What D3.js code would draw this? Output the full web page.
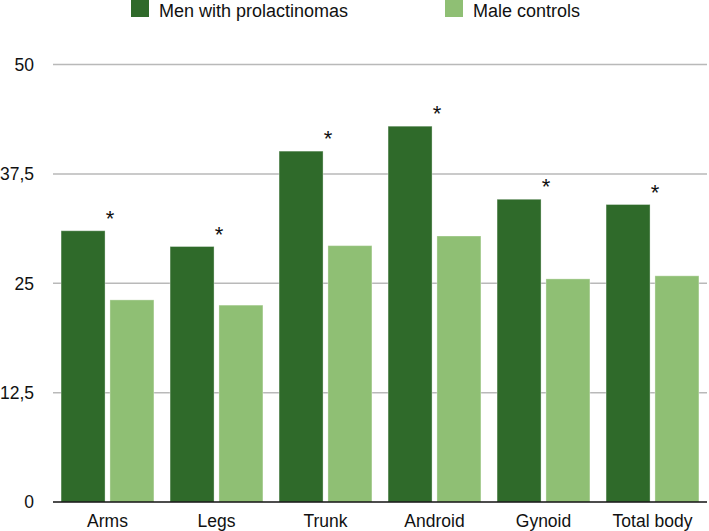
<!DOCTYPE html>
<html>
<head>
<meta charset="utf-8">
<script src="https://cdn.jsdelivr.net/npm/d3@7"></script>
<style>
  html, body { margin: 0; padding: 0; background: #fff; }
  svg { display: block; }
  text { font-family: "Liberation Sans", Arial, Helvetica, sans-serif; fill: #111; }
</style>
</head>
<body>
<svg id="chart" width="709" height="531"></svg>
<script>
const categories = ["Arms", "Legs", "Trunk", "Android", "Gynoid", "Total body"];
const seriesNames = ["Men with prolactinomas", "Male controls"];
const prolactinoma = [31.0, 29.2, 40.1, 42.95, 34.6, 34.0];
const controls = [23.1, 22.5, 29.3, 30.4, 25.5, 25.85];
const significant = [true, true, true, true, true, true];
const yTicks = [0, 12.5, 25, 37.5, 50];
const yTickLabels = ["0", "12,5", "25", "37,5", "50"];
const colors = ["#2f6a2a", "#8fbf74"];

const svg = d3.select("#chart");
const plotLeft = 53, plotRight = 707, plotTop = 64.5, plotBottom = 502;

const y = d3.scaleLinear().domain([0, 50]).range([plotBottom, plotTop]);
const x0 = d3.scaleBand().domain(categories).range([plotLeft, plotRight]).paddingInner(0.148).paddingOuter(0.074);
const x1 = d3.scaleBand().domain(seriesNames).range([0, x0.bandwidth()]).paddingInner(0.1).paddingOuter(0);

// gridlines
svg.append("g").selectAll("line").data(yTicks.filter(d => d > 0)).join("line")
  .attr("x1", plotLeft).attr("x2", plotRight)
  .attr("y1", d => y(d)).attr("y2", d => y(d))
  .attr("stroke", "#b9b9b9").attr("stroke-width", 1.5);

// y labels
svg.append("g").selectAll("text").data(yTicks).join("text")
  .attr("x", 34).attr("y", d => y(d)).attr("dy", "0.36em")
  .attr("text-anchor", "end").attr("font-size", 17.5)
  .text((d, i) => yTickLabels[i]);

// bars
const rows = categories.map((c, i) => ({ cat: c, vals: [prolactinoma[i], controls[i]], sig: significant[i] }));
const g = svg.append("g").selectAll("g").data(rows).join("g")
  .attr("transform", d => `translate(${x0(d.cat)},0)`);
g.selectAll("rect").data(d => d.vals.map((v, j) => ({ s: seriesNames[j], v, j }))).join("rect")
  .attr("x", d => x1(d.s)).attr("width", x1.bandwidth())
  .attr("y", d => y(d.v)).attr("height", d => y(0) - y(d.v))
  .attr("fill", d => colors[d.j])
  .attr("stroke", "rgba(255,255,255,0.35)").attr("stroke-width", 1);

// significance stars
g.filter(d => d.sig).append("text")
  .attr("x", d => x1(seriesNames[0]) + x1.bandwidth() + 5)
  .attr("y", d => y(d.vals[0]) - 5)
  .attr("text-anchor", "middle").attr("font-size", 22)
  .text("*");

// baseline
svg.append("line").attr("x1", plotLeft).attr("x2", plotRight)
  .attr("y1", y(0)).attr("y2", y(0)).attr("stroke", "#111").attr("stroke-width", 1.5);

// category labels
svg.append("g").selectAll("text").data(categories).join("text")
  .attr("x", d => x0(d) + x0.bandwidth() / 2).attr("y", 527)
  .attr("text-anchor", "middle").attr("font-size", 17.5)
  .text(d => d);

// legend
const legendX = [131, 445];
const lg = svg.append("g").selectAll("g").data(seriesNames).join("g")
  .attr("transform", (d, i) => `translate(${legendX[i]},0)`);
lg.append("rect").attr("x", 0).attr("y", -1).attr("width", 18).attr("height", 18)
  .attr("fill", (d, i) => colors[i]);
lg.append("text").attr("x", 28).attr("y", 17).attr("font-size", 18).text(d => d);
</script>
</body>
</html>
